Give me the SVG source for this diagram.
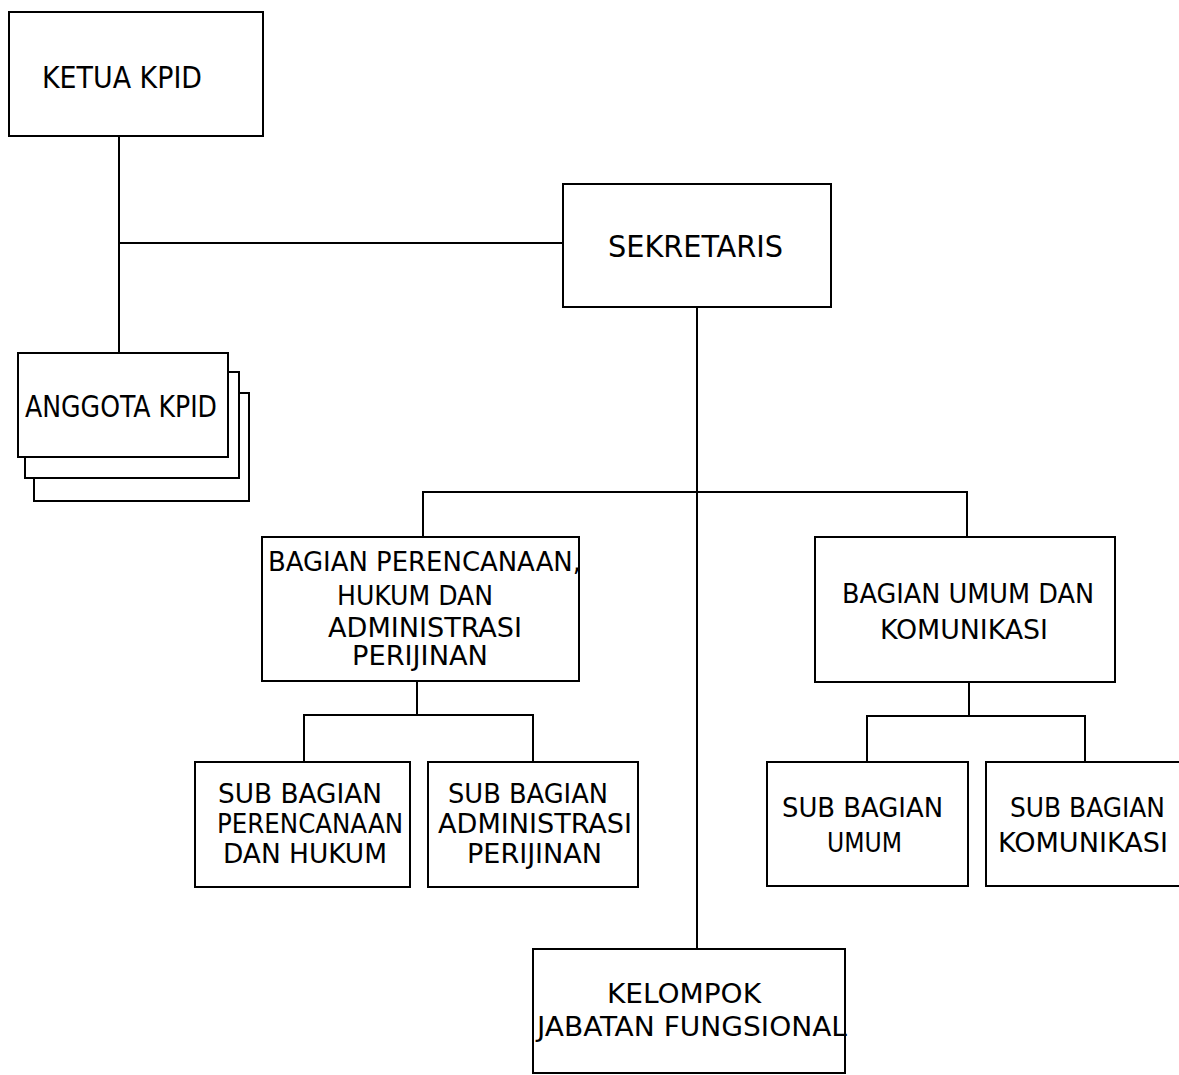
<svg xmlns="http://www.w3.org/2000/svg" width="1179" height="1075" viewBox="0 0 1179 1075">
<style>
.box{fill:#fff;stroke:#000;stroke-width:2}
.ln{fill:none;stroke:#000;stroke-width:2}
text{font-family:"DejaVu Sans Condensed","DejaVu Sans",Tahoma,sans-serif;fill:#000}
.t30{font-size:30px}
.t27{font-size:27px}
</style>
<rect width="1179" height="1075" fill="#fff"/>
<g id="connectors">
<path class="ln" d="M119 136V353M119 243H563"/>
<path class="ln" d="M697 307V949"/>
<path class="ln" d="M423 537V492H967V537"/>
<path class="ln" d="M417 681V715M304 762V715H533V762"/>
<path class="ln" d="M969 682V716M867 762V716H1085V762"/>
</g>
<g id="ketua">
<rect class="box" x="9" y="12" width="254" height="124"/>
<text x="42" y="88" font-size="31" textLength="160" lengthAdjust="spacingAndGlyphs">KETUA KPID</text>
</g>
<g id="anggota">
<rect class="box" x="34" y="393" width="215" height="108"/>
<rect class="box" x="25" y="372" width="214" height="106"/>
<rect class="box" x="18" y="353" width="210" height="104"/>
<text x="25" y="417" font-size="31" textLength="192" lengthAdjust="spacingAndGlyphs">ANGGOTA KPID</text>
</g>
<g id="sekretaris">
<rect class="box" x="563" y="184" width="268" height="123"/>
<text class="t30" x="608" y="257" textLength="175" lengthAdjust="spacingAndGlyphs">SEKRETARIS</text>
</g>
<g id="bagian-perencanaan">
<rect class="box" x="262" y="537" width="317" height="144"/>
<text class="t27" x="268" y="571" textLength="313" lengthAdjust="spacingAndGlyphs">BAGIAN PERENCANAAN,</text>
<text class="t27" x="337" y="605" textLength="156" lengthAdjust="spacingAndGlyphs">HUKUM DAN</text>
<text class="t27" x="328" y="637" textLength="194" lengthAdjust="spacingAndGlyphs">ADMINISTRASI</text>
<text class="t27" x="352" y="665" textLength="136" lengthAdjust="spacingAndGlyphs">PERIJINAN</text>
</g>
<g id="bagian-umum">
<rect class="box" x="815" y="537" width="300" height="145"/>
<text class="t27" x="842" y="603" textLength="252" lengthAdjust="spacingAndGlyphs">BAGIAN UMUM DAN</text>
<text class="t27" x="880" y="639" textLength="168" lengthAdjust="spacingAndGlyphs">KOMUNIKASI</text>
</g>
<g id="sub-perencanaan">
<rect class="box" x="195" y="762" width="215" height="125"/>
<text class="t27" x="218" y="803" textLength="164" lengthAdjust="spacingAndGlyphs">SUB BAGIAN</text>
<text class="t27" x="217" y="833" textLength="186" lengthAdjust="spacingAndGlyphs">PERENCANAAN</text>
<text class="t27" x="223" y="863" textLength="164" lengthAdjust="spacingAndGlyphs">DAN HUKUM</text>
</g>
<g id="sub-administrasi">
<rect class="box" x="428" y="762" width="210" height="125"/>
<text class="t27" x="448" y="803" textLength="160" lengthAdjust="spacingAndGlyphs">SUB BAGIAN</text>
<text class="t27" x="438" y="833" textLength="194" lengthAdjust="spacingAndGlyphs">ADMINISTRASI</text>
<text class="t27" x="467" y="863" textLength="135" lengthAdjust="spacingAndGlyphs">PERIJINAN</text>
</g>
<g id="sub-umum">
<rect class="box" x="767" y="762" width="201" height="124"/>
<text class="t27" x="782" y="817" textLength="161" lengthAdjust="spacingAndGlyphs">SUB BAGIAN</text>
<text class="t27" x="827" y="852" textLength="75" lengthAdjust="spacingAndGlyphs">UMUM</text>
</g>
<g id="sub-komunikasi">
<rect class="box" x="986" y="762" width="220" height="124"/>
<text class="t27" x="1010" y="817" textLength="155" lengthAdjust="spacingAndGlyphs">SUB BAGIAN</text>
<text class="t27" x="998" y="852" textLength="170" lengthAdjust="spacingAndGlyphs">KOMUNIKASI</text>
</g>
<g id="kelompok">
<rect class="box" x="533" y="949" width="312" height="124"/>
<text class="t27" x="607" y="1003" textLength="154" lengthAdjust="spacingAndGlyphs">KELOMPOK</text>
<text class="t27" x="537" y="1036" textLength="310" lengthAdjust="spacingAndGlyphs">JABATAN FUNGSIONAL</text>
</g>
</svg>
